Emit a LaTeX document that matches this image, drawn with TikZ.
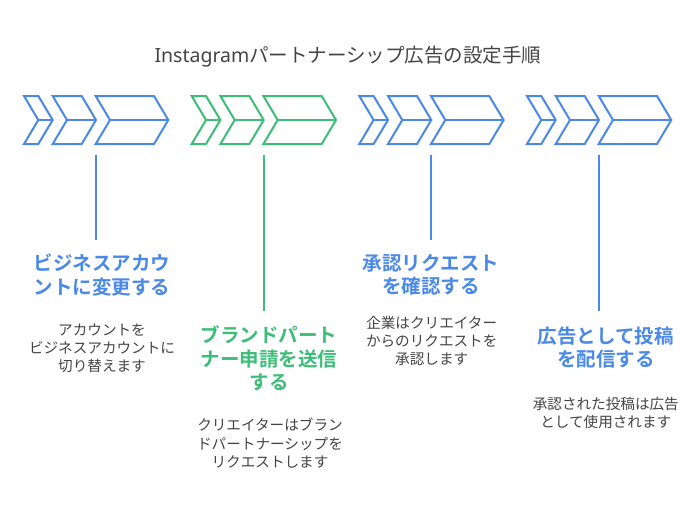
\documentclass[tikz,border=0pt]{standalone}
\usepackage{fontspec}
\newfontfamily\jp{Noto Sans CJK JP}[BoldFont={Noto Sans CJK JP Bold}]
\newfontfamily\lat{Noto Sans}
\definecolor{cblue}{RGB}{74,137,232}
\definecolor{cgreen}{RGB}{61,190,120}
\definecolor{ctext}{RGB}{68,68,68}
\tikzset{
  chev/.style={line width=2pt, line join=miter},
  conn/.style={line width=2pt},
  steptitle/.style={align=center, inner sep=0pt, font=\jp\bfseries\fontsize{19.5}{23.5}\selectfont},
  stepdesc/.style={align=center, inner sep=0pt, text=ctext, font=\jp\fontsize{14.6}{18.2}\selectfont},
}
\newcommand{\chevgroup}[3]{%
  % #1 = x0, #2 = colour, #3 = name prefix
  \begin{scope}[shift={(#1,0)}]
    \draw[chev,#2] (0,96) -- (14.3,96) -- (28.7,120) -- (14.3,144) -- (0,144) -- (14.3,120) -- cycle;
    \draw[chev,#2] (14.3,120) -- (28.7,120);
    \draw[chev,#2] (28.7,96) -- (57.7,96) -- (72,120) -- (57.7,144) -- (28.7,144) -- (43,120) -- cycle;
    \draw[chev,#2] (43,120) -- (72,120);
    \draw[chev,#2] (71.7,96) -- (130,96) -- (144.3,120) -- (130,144) -- (71.7,144) -- (86,120) -- cycle;
    \draw[chev,#2] (86,120) -- (144.3,120);
    \coordinate (#3top) at (72,155);
  \end{scope}}
\begin{document}
\begin{tikzpicture}[x=1pt,y=-1pt]
  \useasboundingbox (0,0) rectangle (696,528);
  \fill[white] (0,0) rectangle (696,528);

  \node[inner sep=0pt, text=ctext, font=\jp\fontsize{19.5}{23}\selectfont] (title) at (348,57) {{\lat Instagram}パートナーシップ広告の設定手順};

  \chevgroup{24}{cblue}{a}
  \chevgroup{191.7}{cgreen}{b}
  \chevgroup{359.3}{cblue}{c}
  \chevgroup{527}{cblue}{d}

  \coordinate (abot) at (96,240);
  \coordinate (bbot) at (263.7,311);
  \coordinate (cbot) at (431.3,240);
  \coordinate (dbot) at (599,311);

  \draw[conn,cblue] (atop) -- (abot);
  \draw[conn,cgreen] (btop) -- (bbot);
  \draw[conn,cblue] (ctop) -- (cbot);
  \draw[conn,cblue] (dtop) -- (dbot);

  \node[steptitle, text=cblue] (t1) at (102,275) {ビジネスアカウ\\ントに変更する};
  \node[stepdesc] (d1) at (102,348) {アカウントを\\ビジネスアカウントに\\切り替えます};

  \node[steptitle, text=cgreen] (t2) at (269,358.7) {ブランドパート\\ナー申請を送信\\する};
  \node[stepdesc] (d2) at (270,443.3) {クリエイターはブラン\\ドパートナーシップを\\リクエストします};

  \node[steptitle, text=cblue] (t3) at (431,275) {承認リクエスト\\を確認する};
  \node[stepdesc] (d3) at (431.7,341) {企業はクリエイター\\からのリクエストを\\承認します};

  \node[steptitle, text=cblue] (t4) at (605.8,347.5) {広告として投稿\\を配信する};
  \node[stepdesc] (d4) at (605.8,413.3) {承認された投稿は広告\\として使用されます};
\end{tikzpicture}
\end{document}
